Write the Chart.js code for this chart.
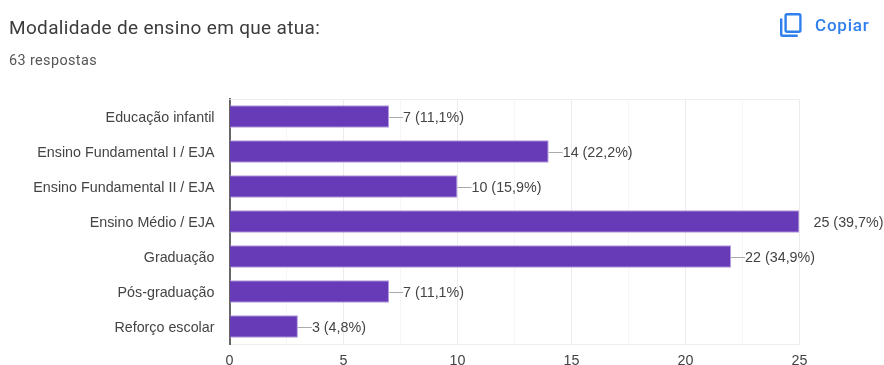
<!DOCTYPE html>
<html lang="pt-BR">
<head>
<meta charset="utf-8">
<title>Modalidade de ensino em que atua</title>
<script src="https://cdn.jsdelivr.net/npm/chart.js@4"></script>
<style>
  html, body { margin: 0; padding: 0; background: #fff; }
  #wrap { position: relative; width: 884px; height: 365px; overflow: hidden; }
  #chart { position: absolute; left: 0; top: 0; }
  .title { position: absolute; left: 9px; top: 16px; font: 19px Roboto, sans-serif; letter-spacing: 0.33px; color: #3c3c3c; white-space: nowrap; }
  .count { position: absolute; left: 9px; top: 52px; font: 14.4px Roboto, sans-serif; letter-spacing: 0.4px; color: #555; white-space: nowrap; }
  .copy { position: absolute; left: 815px; top: 15px; font: 500 17px Roboto, sans-serif; letter-spacing: 0.8px; color: #2f80ed; white-space: nowrap; }
  .copy-icon { position: absolute; left: 779px; top: 12px; }
</style>
</head>
<body>
<div id="wrap">
  <!-- canvas runs past the page bottom so the x tick labels are not clipped by the axis box -->
  <canvas id="chart" width="884" height="385"></canvas>
  <div class="title">Modalidade de ensino em que atua:</div>
  <div class="count">63 respostas</div>
  <svg class="copy-icon" width="24" height="26" viewBox="0 0 24 26" fill="none" stroke="#2f80ed" stroke-width="2.4">
    <rect x="6.6" y="2.2" width="14.8" height="17.6" rx="1.5"></rect>
    <path d="M2.2 6.5v15.8a1.5 1.5 0 0 0 1.5 1.5h15"></path>
  </svg>
  <div class="copy">Copiar</div>
</div>
<script>
// Responses per teaching level
const categories = [
  'Educação infantil',
  'Ensino Fundamental I / EJA',
  'Ensino Fundamental II / EJA',
  'Ensino Médio / EJA',
  'Graduação',
  'Pós-graduação',
  'Reforço escolar'
];
const counts = [7, 14, 10, 25, 22, 7, 3];
const shares = ['11,1%', '22,2%', '15,9%', '39,7%', '34,9%', '11,1%', '4,8%'];
const xTicks = [0, 5, 10, 15, 20, 25];

const labelFont = '14.3px "Liberation Sans", Arial, sans-serif';
const textColor = '#444';

// Draws the top edge of the plot, then a leader line and "n (p%)" next to each bar
const valueLabels = {
  id: 'valueLabels',
  beforeDatasetsDraw(chart) {
    const { ctx, chartArea } = chart;
    ctx.save();
    ctx.strokeStyle = '#eee';
    ctx.lineWidth = 1;
    ctx.beginPath();
    ctx.moveTo(chartArea.left, chartArea.top + 0.5);
    ctx.lineTo(chartArea.right, chartArea.top + 0.5);
    ctx.stroke();
    ctx.restore();
  },
  afterDatasetsDraw(chart) {
    const { ctx } = chart;
    const bars = chart.getDatasetMeta(0).data;
    ctx.save();
    ctx.font = labelFont;
    ctx.textBaseline = 'middle';
    ctx.fillStyle = textColor;
    bars.forEach((bar, i) => {
      const y = Math.round(bar.y);
      // the longest bar has no visible leader
      if (counts[i] < Math.max(...counts)) {
        ctx.strokeStyle = '#aaa';
        ctx.lineWidth = 1;
        ctx.beginPath();
        ctx.moveTo(bar.x, y + 0.5);
        ctx.lineTo(bar.x + 14, y + 0.5);
        ctx.stroke();
      }
      ctx.fillText(counts[i] + ' (' + shares[i] + ')', bar.x + 14, y + 1.5);
    });
    ctx.restore();
  }
};

new Chart(document.getElementById('chart'), {
  type: 'bar',
  data: {
    labels: categories,
    datasets: [{
      data: counts,
      backgroundColor: '#673ab7',
      borderColor: '#b39ddb',
      borderWidth: 1,
      categoryPercentage: 0.64,
      barPercentage: 1
    }]
  },
  plugins: [valueLabels],
  options: {
    indexAxis: 'y',
    responsive: false,
    animation: false,
    layout: { padding: { top: 99, right: 84.5, left: 0, bottom: 0 } },
    plugins: {
      legend: { display: false },
      title: { display: false },
      tooltip: { enabled: false }
    },
    scales: {
      x: {
        min: 0,
        max: 25,
        afterBuildTicks(axis) {
          // half steps only add the lighter gridlines
          const minor = [2.5, 7.5, 12.5, 17.5, 22.5].map(v => ({ value: v }));
          axis.ticks = xTicks.map(v => ({ value: v })).concat(minor).sort((a, b) => a.value - b.value);
        },
        afterFit(axis) { axis.height = 41; },
        border: { display: true, color: '#eee', width: 1 },
        grid: {
          drawTicks: false,
          color: ctx => (xTicks.includes(ctx.tick.value) ? '#ececec' : '#f6f6f6')
        },
        ticks: {
          autoSkip: false,
          maxRotation: 0,
          padding: 8,
          color: textColor,
          font: { family: '"Liberation Sans", Arial, sans-serif', size: 14.3 },
          callback: v => (xTicks.includes(v) ? String(v) : '')
        }
      },
      y: {
        afterFit(axis) { axis.width = 229.5; },
        border: { display: true, color: '#666', width: 2 },
        grid: { display: false, drawTicks: false },
        ticks: {
          padding: 15,
          labelOffset: 1.5,
          color: textColor,
          font: { family: '"Liberation Sans", Arial, sans-serif', size: 14.3 }
        }
      }
    }
  }
});
</script>
</body>
</html>
